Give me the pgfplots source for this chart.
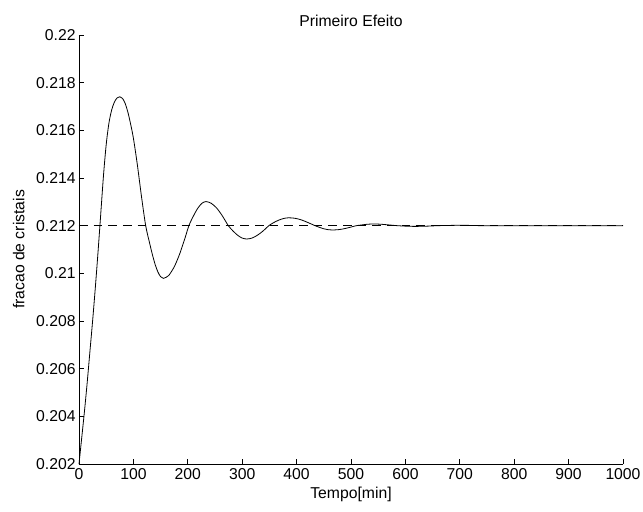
\documentclass[border=0pt]{standalone}
\usepackage{fontspec}
\setmainfont{Liberation Sans}
\usepackage{pgfplots}
\pgfplotsset{compat=1.18}
\usetikzlibrary{calc}

\begin{document}
\begin{tikzpicture}
\begin{axis}[name=ax, scale only axis, width=408pt, height=321.75pt,
  xmin=0, xmax=1000, ymin=0.202, ymax=0.22,
  axis lines=left, axis line style={-, line width=0.6pt},
  tick align=inside, major tick length=4pt, tick style={line width=0.5pt, black},
  xtick={0,100,...,1000},
  ytick={0.202,0.204,0.206,0.208,0.21,0.212,0.214,0.216,0.218,0.22},
  yticklabels={0.202,0.204,0.206,0.208,0.21,0.212,0.214,0.216,0.218,0.22},
  scaled y ticks=false,
  /pgf/number format/1000 sep={},
  /pgf/number format/assume math mode=true,
  ticklabel style={font=\fontsize{11.8}{13}\selectfont},
  yticklabel style={xshift=1pt},
  label style={font=\fontsize{11.8}{13}\selectfont},
  title style={font=\fontsize{11.8}{13}\selectfont, yshift=-3pt},
  xlabel={Tempo[min]}, ylabel={fracao de cristais},
  xlabel style={yshift=1.5pt}, ylabel style={yshift=2pt},
  title={Primeiro Efeito},
  clip=false]
\addplot[black, line width=0.6pt, dash pattern=on 6.5pt off 4.5pt] coordinates {(0,0.212)(1000,0.212)};
\addplot[black, line width=0.6pt, smooth, tension=0.5] coordinates {
(0,0.2020)(5,0.2031)(10,0.2042)(15,0.2054)(20,0.2067)(25,0.2080)(30,0.2094)(35,0.2109)
(40,0.2125)(45,0.2141)(50,0.2154)(55,0.2163)(60,0.21685)(65,0.21718)(70,0.21736)(75,0.21741)
(80,0.21734)(85,0.21712)(90,0.21675)(95,0.21625)(100,0.21567)(107,0.2146)(115,0.2132)(122.6,0.2120)
(130,0.21125)(135,0.21078)(140,0.21037)(145,0.21006)(150,0.20986)(155,0.20979)(160,0.20983)(165,0.20991)
(175,0.21027)(185,0.21081)(195,0.21149)(202,0.2120)(210,0.21239)(218,0.21272)(226,0.21294)(233.5,0.21301)
(243,0.21294)(253,0.21274)(263,0.21243)(274.5,0.2120)(283,0.21178)(291,0.21161)(299,0.21149)(308,0.21144)
(318,0.21148)(328,0.2116)(338,0.21177)(349,0.2120)(358,0.21213)(367,0.21223)(376,0.2123)(385,0.21233)
(397,0.21231)(409,0.21224)(421,0.21213)(434,0.2120)(442,0.21193)(450,0.21187)(457,0.211835)(464.5,0.21182)
(476,0.21183)(487,0.21187)(498,0.21193)(510,0.2120)(520,0.21203)(530,0.21206)(543,0.21207)(555,0.21206)
(570,0.21203)(585,0.2120)(600,0.21198)(618,0.21197)(640,0.21198)(660,0.2120)(680,0.21201)(700,0.212015)
(720,0.21201)(740,0.2120)(775,0.211995)(810,0.2120)(850,0.212)(1000,0.212)};
\end{axis}
\pgfresetboundingbox
\path ($(ax.south west)+(-59.25pt,-35.25pt)$) rectangle ($(ax.north east)+(15pt,26.25pt)$);
\end{tikzpicture}
\end{document}
